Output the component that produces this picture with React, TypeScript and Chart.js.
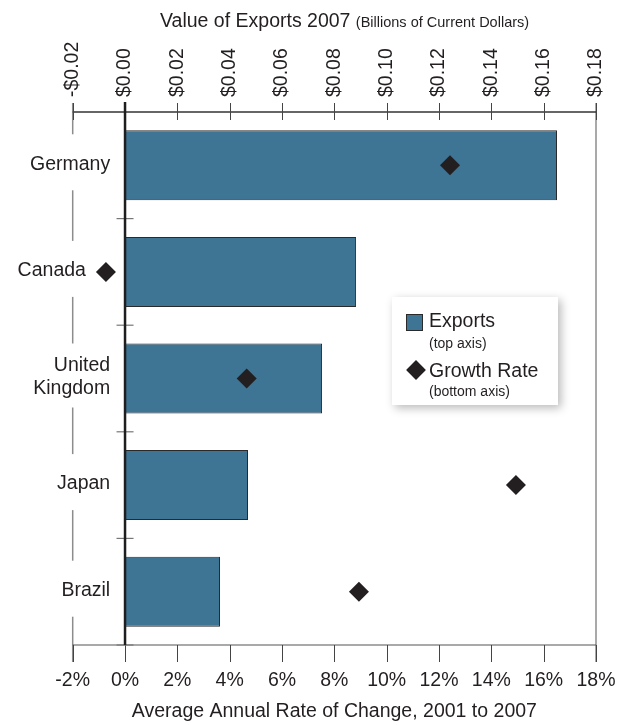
import React, { useEffect, useRef } from 'react';
import { Chart, registerables } from 'chart.js';

Chart.register(...registerables);

// ---- data ----
const countries: (string | string[])[] = ['Germany', 'Canada', ['United', 'Kingdom'], 'Japan', 'Brazil'];
const exportValues = [0.1651, 0.0883, 0.0753, 0.047, 0.0363]; // billions of current dollars (top axis)
const growthRates = [12.42, -0.73, 4.65, 14.94, 8.94]; // % average annual change (bottom axis)
const topAxisRange = [-0.02, 0.18];
const bottomAxisRange = [-2, 18];
const topTitle = 'Value of Exports 2007';
const topSubtitle = '(Billions of Current Dollars)';
const bottomTitle = 'Average Annual Rate of Change, 2001 to 2007';
const legendItems = [
  { name: 'Exports', note: '(top axis)' },
  { name: 'Growth Rate', note: '(bottom axis)' },
];

// ---- styles ----
const FONT = '"Liberation Sans", Arial, Helvetica, sans-serif';
const TEXT = '#231f20';
const BAR = '#3e7494';
const BAR_BORDER = '#2a2a2a';
const DIAMOND = '#231f20';
const TICK_FONT_SIZE = 19.5;

const fmtDollar = (v: number) => {
  const a = Math.abs(v) < 1e-9 ? 0 : v;
  return (a < 0 ? '-' : '') + '$' + Math.abs(a).toFixed(2);
};

const noSidePadding = (s: any) => {
  s.paddingLeft = 0;
  s.paddingRight = 0;
};

const axesPlugin = {
  id: 'customAxes',
  beforeDatasetsDraw(chart: any) {
    const { ctx, chartArea: ca, scales } = chart;
    const top = scales.xTop;
    const bot = scales.xBottom;
    const ys = scales.y;
    ctx.save();
    // side borders
    ctx.strokeStyle = '#8c8c8c';
    ctx.lineWidth = 1.5;
    [ca.left, ca.right].forEach((x: number) => {
      ctx.beginPath();
      ctx.moveTo(x, ca.top - 9);
      ctx.lineTo(x, ca.bottom + 17);
      ctx.stroke();
    });
    // top axis line
    ctx.strokeStyle = '#333';
    ctx.lineWidth = 1.5;
    ctx.beginPath();
    ctx.moveTo(ca.left, ca.top);
    ctx.lineTo(ca.right, ca.top);
    ctx.stroke();
    // top ticks
    ctx.lineWidth = 1;
    ctx.strokeStyle = '#444';
    top.ticks.forEach((t: any) => {
      const x = Math.round(top.getPixelForValue(t.value)) + 0.5;
      ctx.beginPath();
      ctx.moveTo(x, ca.top - 9);
      ctx.lineTo(x, ca.top + 8);
      ctx.stroke();
    });
    // bottom axis line
    ctx.strokeStyle = '#555';
    ctx.lineWidth = 1.2;
    ctx.beginPath();
    ctx.moveTo(ca.left, ca.bottom);
    ctx.lineTo(ca.right, ca.bottom);
    ctx.stroke();
    // bottom ticks
    ctx.strokeStyle = '#444';
    ctx.lineWidth = 1;
    bot.ticks.forEach((t: any) => {
      const x = Math.round(bot.getPixelForValue(t.value)) + 0.5;
      ctx.beginPath();
      ctx.moveTo(x, ca.bottom);
      ctx.lineTo(x, ca.bottom + 17);
      ctx.stroke();
    });
    // category separators on zero line
    const x0 = top.getPixelForValue(0);
    ctx.strokeStyle = '#777';
    ctx.lineWidth = 1.2;
    countries.forEach((_, i) => {
      const y = ys.getPixelForValue(i + 0.5);
      ctx.beginPath();
      ctx.moveTo(x0 - 8.5, y);
      ctx.lineTo(x0 + 8.5, y);
      ctx.stroke();
    });
    // category labels (with white backdrop hiding the border)
    ctx.font = `${TICK_FONT_SIZE}px ${FONT}`;
    ctx.fillStyle = TEXT;
    ctx.textAlign = 'right';
    ctx.textBaseline = 'middle';
    countries.forEach((c, i) => {
      const lines = Array.isArray(c) ? c : [c];
      const yc = ys.getPixelForValue(i);
      const diamondLeft = bot.getPixelForValue(growthRates[i]) - 10;
      const xr = Math.min(ca.left + 37.5, diamondLeft - 10);
      const half = lines.length === 1 ? 28 : 32;
      ctx.save();
      ctx.fillStyle = '#fff';
      ctx.fillRect(ca.left - 5, yc - half - 3, 10, 2 * half);
      ctx.restore();
      const lh = 23;
      lines.forEach((ln, k) => {
        const yy = yc + (k - (lines.length - 1) / 2) * lh - 1;
        ctx.fillText(ln, xr, yy);
      });
    });
    ctx.restore();
  },
  afterDatasetsDraw(chart: any) {
    const { ctx, chartArea: ca, scales } = chart;
    const x0 = scales.xTop.getPixelForValue(0);
    ctx.save();
    ctx.strokeStyle = '#1e1e1e';
    ctx.lineWidth = 2.5;
    ctx.beginPath();
    ctx.moveTo(x0, ca.top - 10);
    ctx.lineTo(x0, ca.bottom);
    ctx.stroke();
    ctx.restore();
  },
};

export default function App() {
  const canvasRef = useRef<HTMLCanvasElement | null>(null);

  useEffect(() => {
    if (!canvasRef.current) return;
    const chart = new Chart(canvasRef.current, {
      type: 'bar',
      data: {
        labels: countries as any,
        datasets: [
          {
            type: 'line',
            label: legendItems[1].name,
            data: growthRates,
            indexAxis: 'y',
            xAxisID: 'xBottom',
            yAxisID: 'y',
            showLine: false,
            fill: false,
            pointStyle: 'rectRot',
            pointRadius: 10,
            pointHoverRadius: 10,
            pointBackgroundColor: DIAMOND,
            pointBorderColor: DIAMOND,
            pointBorderWidth: 0,
            order: 0,
          } as any,
          {
            type: 'bar',
            label: legendItems[0].name,
            data: exportValues,
            indexAxis: 'y',
            xAxisID: 'xTop',
            yAxisID: 'y',
            backgroundColor: BAR,
            borderColor: BAR_BORDER,
            borderWidth: 1,
            categoryPercentage: 1,
            barPercentage: 0.657,
            order: 1,
          } as any,
        ],
      },
      options: {
        indexAxis: 'y',
        responsive: false,
        animation: false,
        layout: { padding: { left: 72.7, right: 28, top: 0, bottom: 0 } },
        plugins: {
          legend: { display: false },
          tooltip: { enabled: false },
        },
        scales: {
          y: {
            type: 'category',
            display: false,
            offset: true,
          },
          xTop: {
            type: 'linear',
            position: 'top',
            min: topAxisRange[0],
            max: topAxisRange[1],
            grid: { display: false, drawTicks: false },
            border: { display: false },
            ticks: {
              stepSize: 0.02,
              autoSkip: false,
              minRotation: 90,
              maxRotation: 90,
              padding: 15,
              labelOffset: TICK_FONT_SIZE * 1.2,
              color: TEXT,
              font: { family: FONT, size: TICK_FONT_SIZE },
              callback: (v: any) => fmtDollar(Number(v)),
            },
            afterFit: (s: any) => {
              s.height = 112;
              noSidePadding(s);
            },
          },
          xBottom: {
            type: 'linear',
            position: 'bottom',
            min: bottomAxisRange[0],
            max: bottomAxisRange[1],
            grid: { display: false, drawTicks: false },
            border: { display: false },
            ticks: {
              stepSize: 2,
              autoSkip: false,
              maxRotation: 0,
              padding: 24,
              color: TEXT,
              font: { family: FONT, size: TICK_FONT_SIZE },
              callback: (v: any) => `${Math.round(Number(v))}%`,
            },
            title: {
              display: true,
              text: bottomTitle,
              color: TEXT,
              font: { family: FONT, size: TICK_FONT_SIZE },
              padding: { top: 0, bottom: 1.3 },
            },
            afterFit: (s: any) => {
              s.height = 80;
              noSidePadding(s);
            },
          },
        },
      } as any,
      plugins: [axesPlugin],
    });
    return () => chart.destroy();
  }, []);

  return (
    <div style={{ position: 'absolute', left: 0, top: 0, width: 624, height: 725, background: '#fff', fontFamily: FONT, color: TEXT }}>
      <canvas ref={canvasRef} width={624} height={725} style={{ display: 'block', width: 624, height: 725 }} />
      <div style={{ position: 'absolute', left: 160, top: 9, whiteSpace: 'nowrap', fontSize: 19.5, lineHeight: 'normal' }}>
        {topTitle} <span style={{ fontSize: 14.5 }}>{topSubtitle}</span>
      </div>
      <div
        style={{
          position: 'absolute',
          left: 392,
          top: 297,
          width: 166,
          height: 108,
          background: '#fff',
          boxShadow: '3px 3px 9px rgba(0,0,0,0.28)',
        }}
      >
        <div style={{ position: 'absolute', left: 14, top: 17, width: 15, height: 15, background: BAR, border: `1px solid ${BAR_BORDER}` }} />
        <div style={{ position: 'absolute', left: 37, top: 12, fontSize: 19.5, whiteSpace: 'nowrap' }}>{legendItems[0].name}</div>
        <div style={{ position: 'absolute', left: 37, top: 38, fontSize: 14, whiteSpace: 'nowrap' }}>{legendItems[0].note}</div>
        <div style={{ position: 'absolute', left: 17, top: 66, width: 14, height: 14, background: DIAMOND, transform: 'rotate(45deg)' }} />
        <div style={{ position: 'absolute', left: 37, top: 62, fontSize: 19.5, whiteSpace: 'nowrap' }}>{legendItems[1].name}</div>
        <div style={{ position: 'absolute', left: 37, top: 86, fontSize: 14, whiteSpace: 'nowrap' }}>{legendItems[1].note}</div>
      </div>
    </div>
  );
}
